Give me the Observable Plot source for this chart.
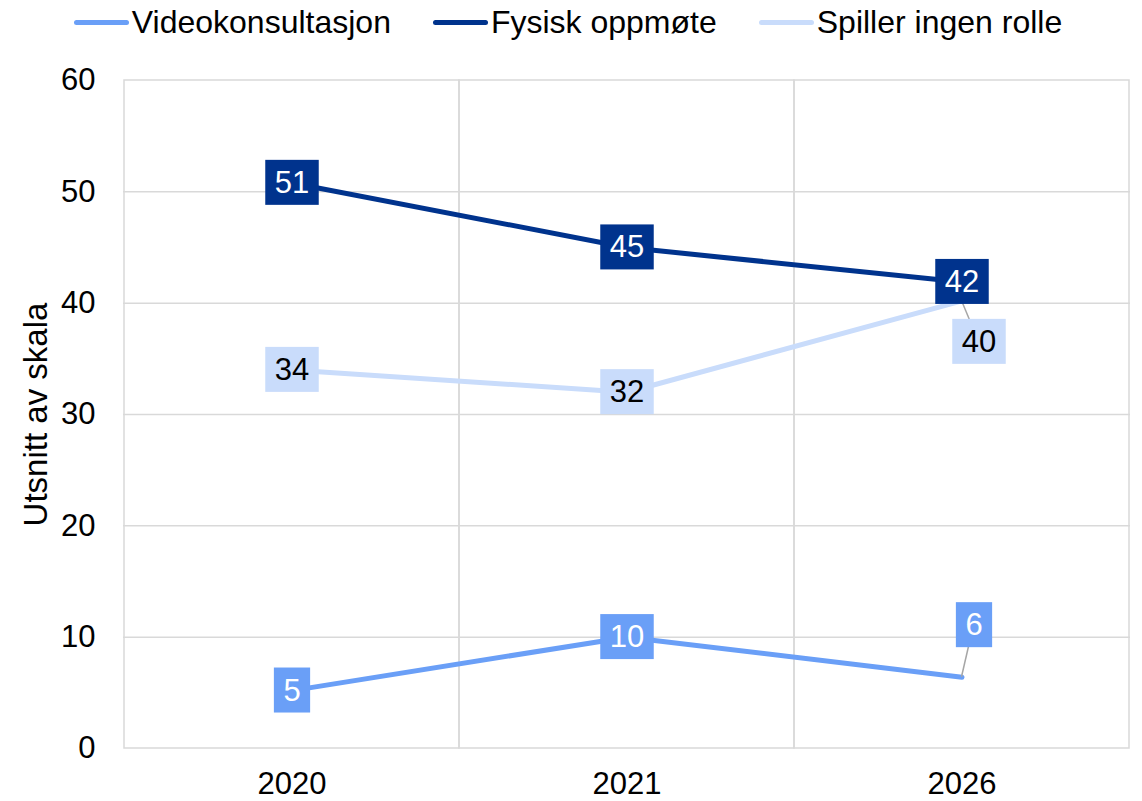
<!DOCTYPE html>
<html><head><meta charset="utf-8">
<script src="https://cdn.jsdelivr.net/npm/d3@7"></script>
<script src="https://cdn.jsdelivr.net/npm/@observablehq/plot@0.6"></script>
<style>
body{margin:0;background:#fff;font-family:"Liberation Sans",Arial,sans-serif;}
#legend{height:45px;display:flex;justify-content:center;align-items:center;gap:42px;font-size:32px;color:#000;padding-right:6px;}
.item{display:flex;align-items:center;}
.sw{width:55px;height:5px;border-radius:3px;margin-right:3px;}
</style></head><body>
<div id="legend"></div><div id="chart"></div>
<script>
const years = ["2020", "2021", "2026"];
const seriesNames = ["Videokonsultasjon", "Fysisk oppmøte", "Spiller ingen rolle"];
const video = [5.2, 10, 6.4];
const fysisk = [50.8, 45, 41.9];
const spiller = [34, 32, 40.2];
const yTicks = [0, 10, 20, 30, 40, 50, 60];
const yLabel = "Utsnitt av skala";

const colors = ["#6A9FF7", "#00338D", "#C9DCFB"];
const textColors = ["#ffffff", "#ffffff", "#000000"];
// label offsets (px) for labels moved away from their points: [series, yearIndex, dx, dy]
const offsets = [[0, 2, 12, -52], [2, 2, 17, 41]];

const seriesValues = [video, fysisk, spiller];
const data = [];
seriesValues.forEach((vals, s) => vals.forEach((v, i) => data.push({year: years[i], yi: i, s, series: seriesNames[s], value: v})));

// legend
const legend = document.getElementById("legend");
seriesNames.forEach((n, s) => {
  const it = document.createElement("div"); it.className = "item";
  const sw = document.createElement("div"); sw.className = "sw"; sw.style.background = colors[s];
  const tx = document.createElement("span"); tx.textContent = n;
  it.append(sw, tx); legend.append(it);
});

const offsetOf = (d) => offsets.find(o => o[0] === d.s && o[1] === d.yi);
const labelMarks = [];
seriesNames.forEach((n, s) => {
  const plain = data.filter(d => d.s === s && !offsetOf(d));
  labelMarks.push(Plot.text(plain, {x: "year", y: "value", text: d => String(Math.round(d.value)), fill: textColors[s], fontSize: 31, className: "lbl-" + s}));
  data.filter(d => d.s === s && offsetOf(d)).forEach(d => {
    const o = offsetOf(d);
    labelMarks.push(Plot.text([d], {x: "year", y: "value", text: d => String(Math.round(d.value)), fill: textColors[s], fontSize: 31, dx: o[2], dy: o[3], className: "lbl-" + s}));
  });
});

const plot = Plot.plot({
  width: 1142, height: 756,
  marginTop: 35, marginBottom: 53, marginLeft: 123, marginRight: 12,
  style: {fontSize: "31px", fontFamily: "'Liberation Sans', Arial, sans-serif", color: "#000", background: "#fff"},
  x: {type: "band", domain: years, padding: 0},
  y: {domain: [0, 60]},
  color: {domain: seriesNames, range: colors},
  marks: [
    Plot.gridY(yTicks.slice(1, -1), {stroke: "#d9d9d9", strokeOpacity: 1, strokeWidth: 1.5}),
    Plot.cell(years, {x: d => d, fill: "none", stroke: "#d9d9d9", strokeWidth: 1.5}),
    Plot.axisY({ticks: yTicks, tickSize: 0, tickPadding: 28, label: null, fontSize: 31}),
    Plot.axisX({tickSize: 0, tickPadding: 23, label: null, fontSize: 31}),
    Plot.text([yLabel], {frameAnchor: "left", rotate: -90, dx: -87, textAnchor: "middle", fontSize: 33, fill: "#000"}),
    Plot.line(data, {x: "year", y: "value", z: "series", stroke: "series", strokeWidth: 5}),
    ...labelMarks
  ]
});
document.getElementById("chart").append(plot);

const ns = "http://www.w3.org/2000/svg";
// leader lines
const xs = plot.scale("x"), ys = plot.scale("y");
const firstLbl = plot.querySelector("g.lbl-0");
offsets.forEach(o => {
  const d = data.find(r => r.s === o[0] && r.yi === o[1]);
  const x = xs.apply(d.year) + xs.bandwidth / 2, y = ys.apply(d.value);
  const ln = document.createElementNS(ns, "line");
  ln.setAttribute("x1", x); ln.setAttribute("y1", y);
  ln.setAttribute("x2", x + o[2]); ln.setAttribute("y2", y + o[3]);
  ln.setAttribute("stroke", "#a6a6a6"); ln.setAttribute("stroke-width", 1.5);
  firstLbl.parentNode.insertBefore(ln, firstLbl);
});
// label boxes
seriesNames.forEach((n, s) => {
  plot.querySelectorAll("g.lbl-" + s + " text").forEach(t => {
    const b = t.getBBox();
    const r = document.createElementNS(ns, "rect");
    r.setAttribute("x", b.x - 9.5); r.setAttribute("y", b.y - 5);
    r.setAttribute("width", b.width + 19); r.setAttribute("height", b.height + 10);
    r.setAttribute("fill", colors[s]);
    if (t.getAttribute("transform")) r.setAttribute("transform", t.getAttribute("transform"));
    t.parentNode.insertBefore(r, t);
  });
});
</script>
</body></html>
